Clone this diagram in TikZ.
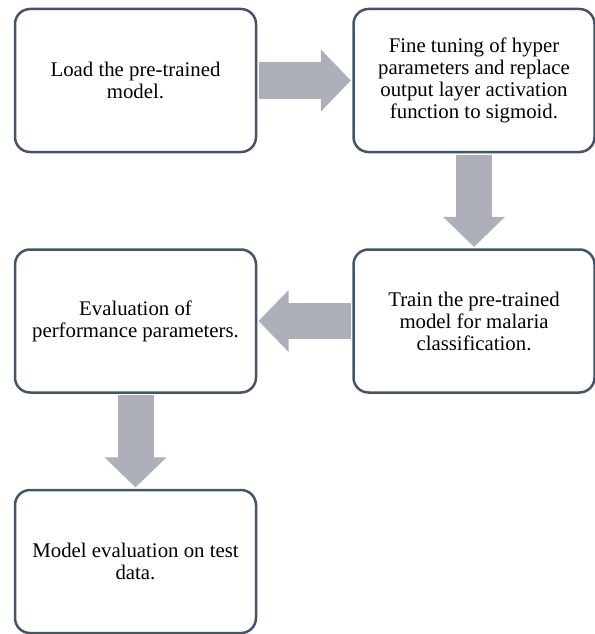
\documentclass[tikz,border=0pt]{standalone}
\usepackage{fontspec}
\setmainfont{Liberation Serif}
\usetikzlibrary{positioning,arrows.meta}
\definecolor{boxline}{RGB}{68,84,106}
\definecolor{arrowgray}{RGB}{173,176,184}
\tikzset{
	stepbox/.style={draw=boxline, line width=2.5pt, rounded corners=15pt, fill=white,
		minimum width=241pt, minimum height=143pt, inner sep=0pt, align=center,
		font=\fontsize{20.8}{22}\selectfont},
	bigarrow/.style={draw=arrowgray, line width=36pt,
		-{Triangle[length=30pt,width=60pt]}, shorten <=1.3pt, shorten >=1.3pt}
}
\begin{document}
\begin{tikzpicture}[x=1pt,y=1pt,node distance=95pt]
	\useasboundingbox (0,0) rectangle (594,-634);
	% boxes
	\node[stepbox] (load) at (135.5,-80.5) {Load the pre-trained\\model.};
	\node[stepbox, right=of load] (tune) {Fine tuning of hyper\\parameters and replace\\output layer activation\\function to sigmoid.};
	\node[stepbox, below=of tune] (train) {Train the pre-trained\\model for malaria\\classification.};
	\node[stepbox, left=of train] (perf) {Evaluation of\\performance parameters.};
	\node[stepbox, below=of perf] (test) {Model evaluation on test\\data.};
	% block arrows
	\draw[bigarrow] (load) -- (tune);
	\draw[bigarrow] (tune) -- (train);
	\draw[bigarrow] (train) -- (perf);
	\draw[bigarrow] (perf) -- (test);
\end{tikzpicture}
\end{document}
